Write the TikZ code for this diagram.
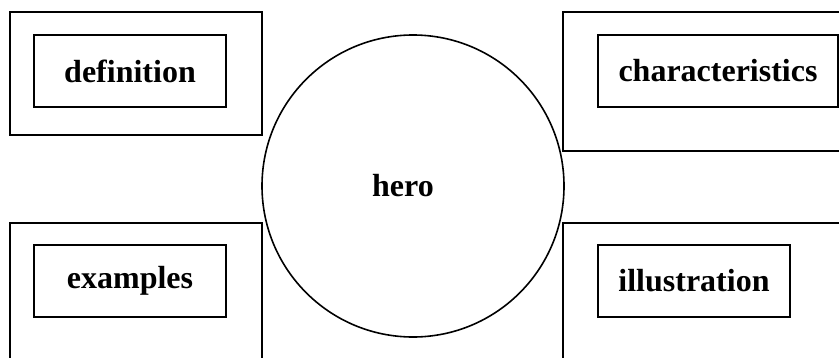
\documentclass[tikz,border=0pt]{standalone}
\usepackage{fontspec}
\setmainfont{Liberation Serif}
\usetikzlibrary{positioning}

\begin{document}
\begin{tikzpicture}[x=0.5pt, y=-0.5pt,
    frame/.style={rectangle, draw, line width=0.8pt, inner sep=0pt, outer sep=0pt},
    label/.style={rectangle, draw, line width=0.8pt, inner sep=0pt, outer sep=0pt,
                  minimum height=36pt, align=center,
                  font=\bfseries\fontsize{16}{19}\selectfont}
]
    \useasboundingbox (0,0) rectangle (839,358);
    \clip (0,0) rectangle (839,358);
    % outer frames
    \node[frame, minimum width=126pt, minimum height=61.5pt] (defframe) at (136,73.5) {};
    \node[frame, minimum width=153.5pt, minimum height=69.5pt] (charframe) at (716.5,81.5) {};
    \node[frame, minimum width=126pt, minimum height=83.5pt] (exframe) at (136,306.5) {};
    \node[frame, minimum width=153.5pt, minimum height=83.5pt] (illframe) at (716.5,306.5) {};
    % inner boxes
    \node[label, minimum width=96pt] (definition) at (130,71) {definition};
    \node[label, minimum width=120pt] (characteristics) at (718,71) {characteristics};
    \node[label, minimum width=96pt] (examples) at (130,281) {examples};
    \node[label, minimum width=96pt] (illustration) at (694,281) {illustration};
    % centre
    \node[circle, draw, line width=0.8pt, fill=white, minimum size=151pt, inner sep=0pt,
          font=\bfseries\fontsize{16}{19}\selectfont] (hero) at (413,186) {hero\kern10pt};
\end{tikzpicture}
\end{document}
